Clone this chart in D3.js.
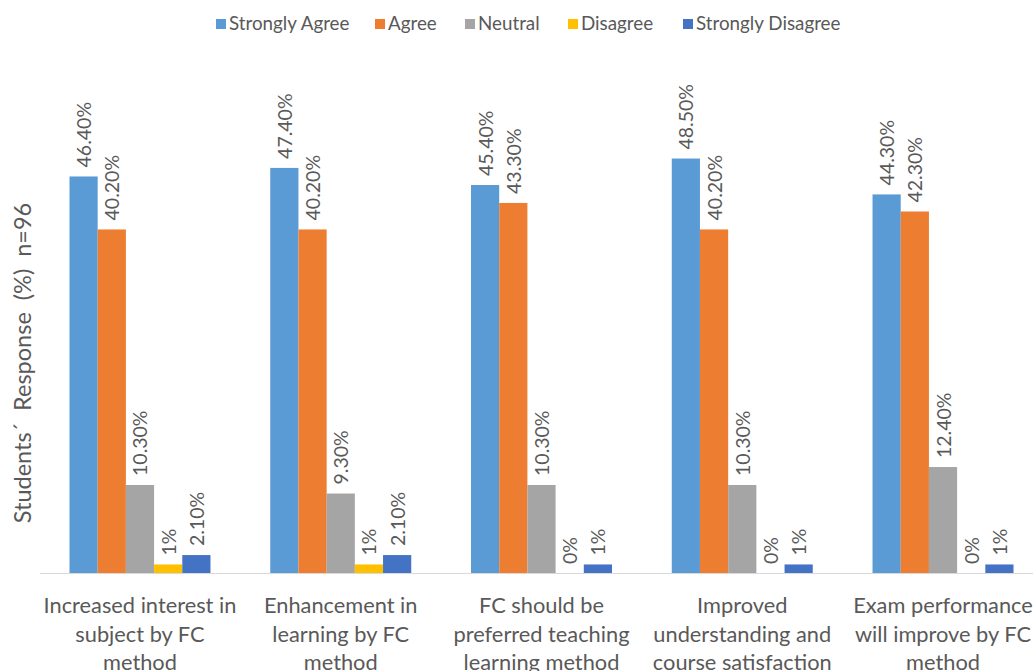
<!DOCTYPE html>
<html><head><meta charset="utf-8">
<script src="https://cdn.jsdelivr.net/npm/d3@7"></script>
<style>body{margin:0;background:#fff}svg{display:block}text{font-family:Lato,sans-serif;fill:#595959}</style>
</head><body><svg id="c" width="1033" height="671"></svg>
<script>
const categories = [
  ["Increased interest in","subject by FC","method"],
  ["Enhancement in","learning by FC","method"],
  ["FC should be","preferred teaching","learning method"],
  ["Improved","understanding and","course satisfaction"],
  ["Exam performance","will improve by FC","method"]
];
const seriesNames = ["Strongly Agree","Agree","Neutral","Disagree","Strongly Disagree"];
const seriesColors = ["#5B9BD5","#ED7D31","#A5A5A5","#FFC000","#4472C4"];
const stronglyAgree = [46.4, 47.4, 45.4, 48.5, 44.3];
const agree = [40.2, 40.2, 43.3, 40.2, 42.3];
const neutral = [10.3, 9.3, 10.3, 10.3, 12.4];
const disagree = [1, 1, 0, 0, 0];
const stronglyDisagree = [2.1, 2.1, 1, 1, 1];
const labels = [
  ["46.40%","47.40%","45.40%","48.50%","44.30%"],
  ["40.20%","40.20%","43.30%","40.20%","42.30%"],
  ["10.30%","9.30%","10.30%","10.30%","12.40%"],
  ["1%","1%","0%","0%","0%"],
  ["2.10%","2.10%","1%","1%","1%"]
];
const series = [stronglyAgree, agree, neutral, disagree, stronglyDisagree];

const svg = d3.select("#c");
const x0 = d3.scaleBand().domain(d3.range(categories.length)).range([39.6, 1043.4]).paddingInner(0).paddingOuter(0);
const x1 = d3.scaleBand().domain(d3.range(seriesNames.length)).range([0, x0.bandwidth()]).paddingOuter(1.06);
const y = d3.scaleLinear().domain([0, 50]).range([573, 145.7]);

const g = svg.append("g");
categories.forEach((c, ci) => {
  const gg = g.append("g").attr("transform", `translate(${x0(ci)},0)`);
  series.forEach((s, si) => {
    gg.append("rect").attr("x", x1(si)).attr("width", x1.bandwidth())
      .attr("y", y(s[ci])).attr("height", y(0) - y(s[ci])).attr("fill", seriesColors[si]);
    const cx = x1(si) + x1.bandwidth() / 2;
    gg.append("text").attr("transform", `translate(${cx},${y(s[ci]) - 9}) rotate(-90)`)
      .attr("dominant-baseline", "central").attr("font-size", 19.5).text(labels[si][ci]);
  });
});

// axis
svg.append("line").attr("x1", 40).attr("x2", 1033).attr("y1", 573.5).attr("y2", 573.5)
  .attr("stroke", "#D9D9D9").attr("stroke-width", 1);

// category labels
categories.forEach((c, ci) => {
  const t = svg.append("text").attr("text-anchor", "middle").attr("font-size", 21.8)
    .attr("x", x0(ci) + x0.bandwidth() / 2);
  c.forEach((line, li) => {
    t.append("tspan").attr("x", x0(ci) + x0.bandwidth() / 2).attr("y", 613 + li * 28.6).text(line);
  });
});

// y title
svg.append("text").attr("transform", "translate(31,363) rotate(-90)").attr("text-anchor", "middle")
  .attr("font-size", 23.5).style("white-space", "pre")
  .text("Students´  Response  (%)  n=96");

// legend
const legendX = [216, 375, 465, 568, 683];
seriesNames.forEach((n, i) => {
  svg.append("rect").attr("x", legendX[i]).attr("y", 19).attr("width", 10).attr("height", 10).attr("fill", seriesColors[i]);
  svg.append("text").attr("x", legendX[i] + 13).attr("y", 30).attr("font-size", 18.8).text(n);
});
</script></body></html>
